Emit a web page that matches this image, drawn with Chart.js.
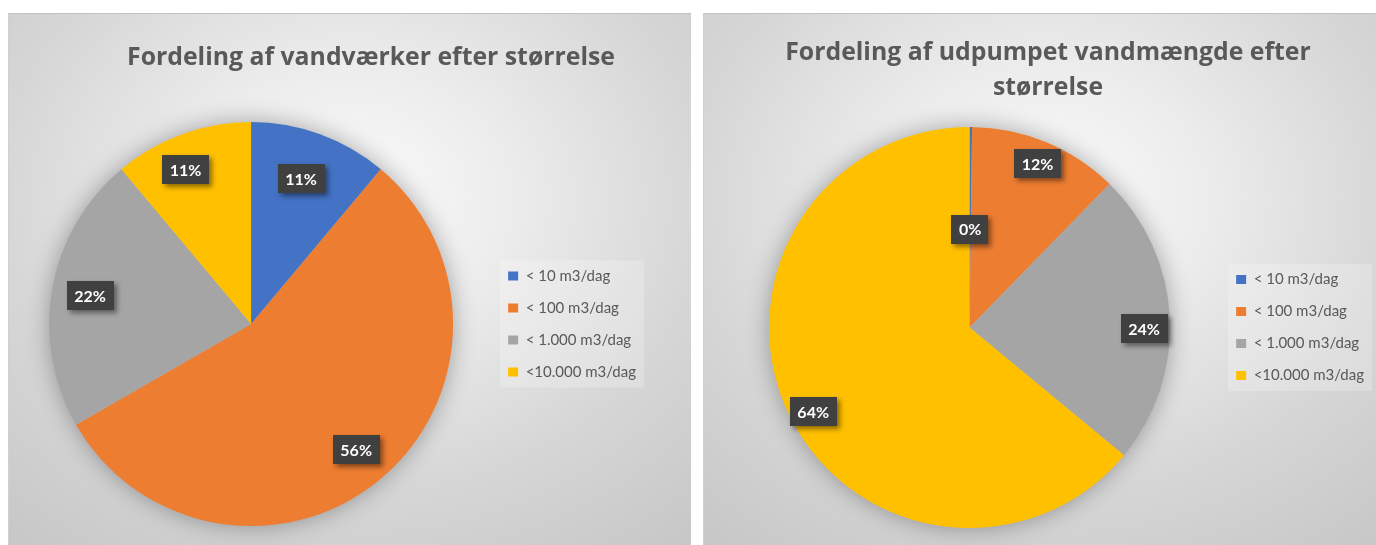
<!DOCTYPE html>
<html><head><meta charset="utf-8">
<script src="https://cdn.jsdelivr.net/npm/chart.js@4.4.0/dist/chart.umd.min.js"></script>
<style>
html,body{margin:0;padding:0;width:1376px;height:545px;overflow:hidden;background:#fff;}
.panel{position:absolute;top:13px;width:683px;height:532px;box-sizing:border-box;border-top:1px solid #c2c2c2;border-left:1px solid #d0d0d0;
background: radial-gradient(ellipse 80% 85% at 50% 35%, #fbfbfb 0%, #ececec 30%, #d6d6d6 65%, #c6c6c6 100%);overflow:hidden}
#p1{left:8px;}
#p2{left:703px;}
.title{position:absolute;font-family:"Open Sans",Lato,sans-serif;font-weight:bold;font-size:24.8px;color:#595959;text-align:center;line-height:35px;white-space:nowrap;z-index:2}
canvas{position:absolute;left:0;top:0}
</style></head>
<body>
<div class="panel" id="p1">
  <canvas id="c1" width="683" height="532"></canvas>
  <div class="title" style="left:0;width:724px;top:24px;">Fordeling af vandværker efter størrelse</div>
</div>
<div class="panel" id="p2">
  <canvas id="c2" width="683" height="532"></canvas>
  <div class="title" style="left:0;width:688px;top:19px;">Fordeling af udpumpet vandmængde efter<br>størrelse</div>
</div>
<script>
// ---- data ----
const categories = ['< 10 m3/dag', '< 100 m3/dag', '< 1.000 m3/dag', '<10.000 m3/dag'];
const plantShares = [11.1, 55.6, 22.2, 11.1];      // % of waterworks
const volumeShares = [0.2, 12.1, 23.7, 64.0];      // % of pumped volume
const sliceColors = ['#4472C4', '#ED7D31', '#A5A5A5', '#FFC000'];

const pieShadow = {
  id: 'pieShadow',
  beforeDatasetsDraw(chart) {
    const arc = chart.getDatasetMeta(0).data[0];
    if (!arc) return;
    const ctx = chart.ctx;
    ctx.save();
    ctx.shadowColor = 'rgba(0,0,0,0.35)';
    ctx.shadowBlur = 24;
    ctx.fillStyle = '#bdbdbd';
    ctx.beginPath();
    ctx.arc(arc.x, arc.y, arc.outerRadius - 1, 0, Math.PI * 2);
    ctx.fill();
    ctx.restore();
  }
};

const legendBg = {
  id: 'legendBg',
  beforeDraw(chart) {
    const lg = chart.legend;
    if (!lg || !lg.legendHitBoxes || !lg.legendHitBoxes.length) return;
    let l = Infinity, t = Infinity, r = -Infinity, b = -Infinity;
    lg.legendHitBoxes.forEach(h => {
      l = Math.min(l, h.left); t = Math.min(t, h.top);
      r = Math.max(r, h.left + h.width); b = Math.max(b, h.top + h.height);
    });
    const ctx = chart.ctx;
    ctx.save();
    ctx.fillStyle = 'rgba(255,255,255,0.22)';
    ctx.fillRect(l - 8, t - 8, r - l + 16, b - t + 16);
    ctx.restore();
  }
};

const boxLabels = {
  id: 'boxLabels',
  afterDatasetsDraw(chart, args, opts) {
    const ctx = chart.ctx;
    const meta = chart.getDatasetMeta(0);
    const data = chart.data.datasets[0].data;
    const total = data.reduce((a, b) => a + b, 0);
    ctx.save();
    ctx.font = 'bold 16px Lato';
    meta.data.forEach((arc, i) => {
      const mid = (arc.startAngle + arc.endAngle) / 2 + (opts.shifts[i] || 0) * Math.PI / 180;
      const rr = arc.outerRadius * opts.fractions[i];
      const cx = arc.x + Math.cos(mid) * rr;
      const cy = arc.y + Math.sin(mid) * rr;
      const txt = Math.round(data[i] / total * 100) + '%';
      const w = ctx.measureText(txt).width + 15, h = 29;
      ctx.shadowColor = 'rgba(0,0,0,0.45)';
      ctx.shadowBlur = 5; ctx.shadowOffsetX = 3; ctx.shadowOffsetY = 3;
      ctx.fillStyle = '#404040';
      ctx.fillRect(Math.round(cx - w / 2), Math.round(cy - h / 2), Math.round(w), h);
      ctx.shadowColor = 'transparent';
      ctx.fillStyle = '#ffffff';
      ctx.textAlign = 'center';
      ctx.textBaseline = 'middle';
      ctx.fillText(txt, cx, cy + 1);
    });
    ctx.restore();
  }
};

function makePie(id, values, padding, fractions, shifts) {
  return new Chart(document.getElementById(id), {
    type: 'pie',
    data: {
      labels: categories,
      datasets: [{ data: values, backgroundColor: sliceColors, borderWidth: 0 }]
    },
    options: {
      responsive: false,
      animation: false,
      devicePixelRatio: 1,
      layout: { padding: padding },
      plugins: {
        tooltip: { enabled: false },
        legend: {
          position: 'right',
          align: 'center',
          labels: {
            boxWidth: 10, boxHeight: 9, padding: 17,
            color: '#595959',
            font: { family: 'Lato', size: 15 }
          }
        },
        boxLabels: { fractions: fractions, shifts: shifts }
      }
    },
    plugins: [legendBg, pieShadow, boxLabels]
  });
}

makePie('c1', plantShares, { left: 2, top: 108, bottom: 20, right: 46 }, [0.76, 0.81, 0.81, 0.83], [-1, 0, 0, -3]);
makePie('c2', volumeShares, { left: 16, top: 113, bottom: 18, right: 13 }, [0.49, 0.885, 0.87, 0.885], [0, 0, 3.5, -3]);
</script>
</body></html>
